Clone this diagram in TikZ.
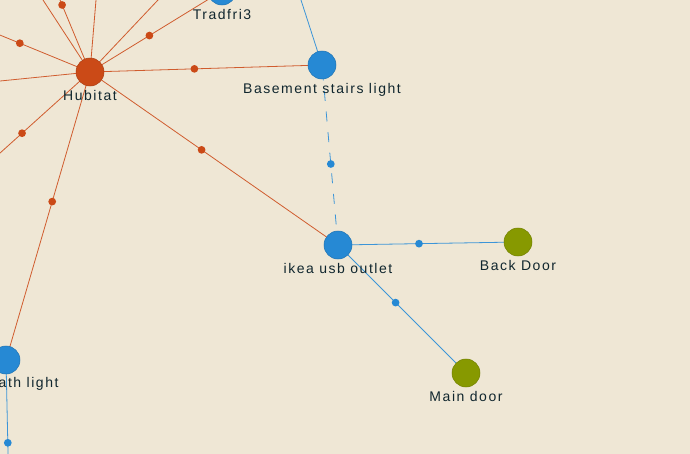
\documentclass[tikz,border=0pt]{standalone}
\usepackage{fontspec}
\usetikzlibrary{backgrounds}

\newfontfamily\lblfont[LetterSpace=11]{Liberation Sans}

\definecolor{paper}{RGB}{239,231,213}
\definecolor{hubred}{RGB}{203,74,23}
\definecolor{zblue}{RGB}{38,137,212}
\definecolor{olive}{RGB}{135,153,0}
\definecolor{ink}{RGB}{16,38,46}

\tikzset{
    dev/.style={circle, minimum size=21pt, inner sep=0pt,
        fill=#1, draw=#1!85!black, line width=0.4pt},
    lbl/.style={font=\lblfont\fontsize{10.5}{12}\selectfont, text=ink,
        inner sep=2.6pt},
    middot/.style={circle, fill=#1, inner sep=0pt, minimum size=5.8pt},
    redlink/.style={draw=hubred!90, line width=0.6pt},
    bluelink/.style={draw=zblue!90, line width=0.6pt},
}

\begin{document}
\begin{tikzpicture}[x=0.75pt, y=-0.75pt]
    \useasboundingbox (0,0) rectangle (690,454);
    \begin{scope}[on background layer]
        \fill[paper] (0,0) rectangle (690,454);
    \end{scope}

    % devices
    \node[dev=hubred, label={[lbl,label distance=0pt]below:Hubitat}] (hubitat) at (90,72) {};
    \node[dev=zblue, label={[lbl,label distance=0pt]below:Tradfri3}] (tradfri) at (222,-9) {};
    \node[dev=zblue, label={[lbl,label distance=0pt]below:Basement stairs light}] (basement) at (322,65) {};
    \node[dev=zblue, label={[lbl,label distance=0pt]below:ikea usb outlet}] (ikea) at (338,245) {};
    \node[dev=olive, label={[lbl,label distance=0pt]below:Back Door}] (backdoor) at (518,242) {};
    \node[dev=olive, label={[lbl,label distance=0pt]below:Main door}] (maindoor) at (466,373) {};
    \node[dev=zblue] (pathlight) at (6,360) {};
    \node[lbl, anchor=north west] (pathlbl) at (-5,373.5) {ath light};

    % neighbours outside the frame
    \coordinate (out1) at (28,-77);
    \coordinate (out2) at (-66,8);
    \coordinate (out3) at (-61,208);
    \coordinate (out4) at (-51,-144);
    \coordinate (out5) at (108,-144);
    \coordinate (out6) at (294,-144);
    \coordinate (out7) at (-180,99);
    \coordinate (out8) at (259,-130);
    \coordinate (out9) at (10,544);

    \begin{scope}[on background layer]
        \foreach \dst in {tradfri,basement,ikea,pathlight,out1,out2,out3}
            \path[redlink] (hubitat.center) -- (\dst.center)
                node[middot=hubred, pos=0.45] {};
        \foreach \dst in {out4,out5,out6,out7}
            \path[redlink] (hubitat.center) -- (\dst);

        \path[bluelink] (out8) -- (basement.center);
        \path[bluelink, dash pattern=on 7.5pt off 8pt] (ikea.center) -- (basement.center)
            node[middot=zblue, pos=0.45] {};
        \path[bluelink] (ikea.center) -- (backdoor.center)
            node[middot=zblue, pos=0.45] {};
        \path[bluelink] (ikea.center) -- (maindoor.center)
            node[middot=zblue, pos=0.45] {};
        \path[bluelink] (pathlight.center) -- (out9)
            node[middot=zblue, pos=0.45] {};
    \end{scope}
\end{tikzpicture}
\end{document}
